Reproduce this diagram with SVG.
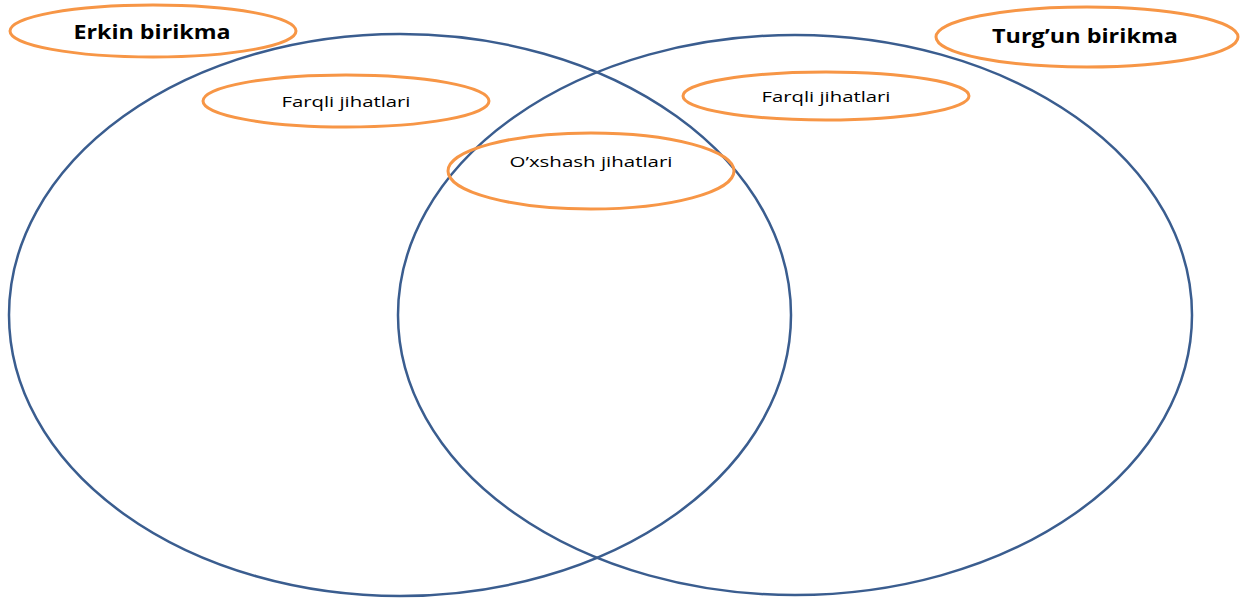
<svg xmlns="http://www.w3.org/2000/svg" width="1250" height="599" viewBox="0 0 1250 599">
<style>
.big{fill:none;stroke:#3A5D8F;stroke-width:2.5}
.lab{fill:none;stroke:#F79646;stroke-width:3}
.t{font-family:"Open Sans","Noto Sans",sans-serif;fill:#000;text-anchor:middle}
.b{font-weight:bold;font-size:19px}
.n{font-size:15px}
</style>
<rect width="1250" height="599" fill="#fff"/>
<g id="set-left"><ellipse class="big" cx="400" cy="315" rx="391" ry="281"/></g>
<g id="set-right"><ellipse class="big" cx="795" cy="315" rx="397" ry="280"/></g>
<g id="connectors"></g>
<g id="title-left"><ellipse class="lab" cx="153" cy="31" rx="143" ry="26"/><text class="t b" x="152" y="39" textLength="157" lengthAdjust="spacingAndGlyphs">Erkin birikma</text></g>
<g id="title-right"><ellipse class="lab" cx="1087" cy="37" rx="151" ry="30"/><text class="t b" x="1085" y="43" textLength="186" lengthAdjust="spacingAndGlyphs">Turg’un birikma</text></g>
<g id="diff-left"><ellipse class="lab" cx="346" cy="101" rx="143" ry="26"/><text class="t n" x="346" y="107" textLength="129" lengthAdjust="spacingAndGlyphs">Farqli jihatlari</text></g>
<g id="diff-right"><ellipse class="lab" cx="826" cy="96" rx="143" ry="24"/><text class="t n" x="826" y="102" textLength="129" lengthAdjust="spacingAndGlyphs">Farqli jihatlari</text></g>
<g id="common"><ellipse class="lab" cx="591" cy="171" rx="143" ry="38"/><text class="t n" x="591" y="167" textLength="163" lengthAdjust="spacingAndGlyphs">O’xshash jihatlari</text></g>
</svg>
